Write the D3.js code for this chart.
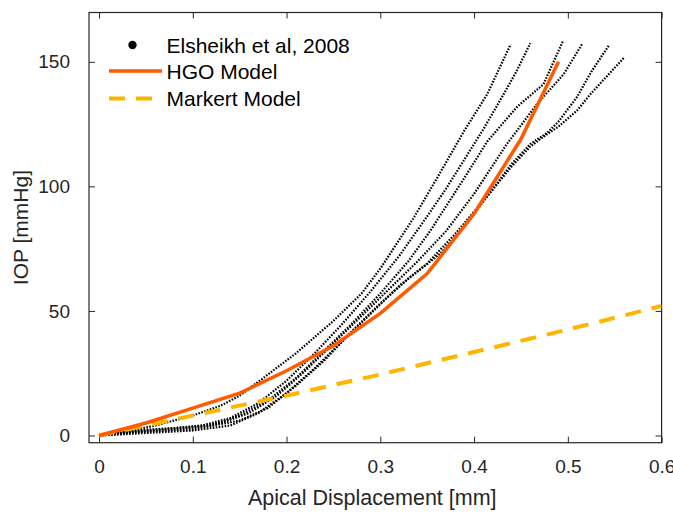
<!DOCTYPE html>
<html>
<head>
<meta charset="utf-8">
<script src="https://cdn.jsdelivr.net/npm/d3@7"></script>
<style>
  html, body { margin: 0; padding: 0; background: #fff; }
  svg { display: block; font-family: "Liberation Sans", Arial, Helvetica, sans-serif; }
</style>
</head>
<body>
<svg id="chart" width="673" height="513"></svg>
<script>
// ---------------- data ----------------
const xTicks = [0, 0.1, 0.2, 0.3, 0.4, 0.5, 0.6];
const xTickLabels = ["0", "0.1", "0.2", "0.3", "0.4", "0.5", "0.6"];
const yTicks = [0, 50, 100, 150];
const yTickLabels = ["0", "50", "100", "150"];

const seriesNames = ["Elsheikh et al, 2008", "HGO Model", "Markert Model"];

// experimental curves (displacement mm, IOP mmHg)
const expA = [[0,0],[0.03,1.5],[0.06,4],[0.1,8],[0.13,12],[0.15,16],[0.175,23],[0.21,33],[0.25,46],[0.28,57],[0.3,67],[0.335,87],[0.36,103],[0.389,122],[0.414,137],[0.439,157]];
const expB = [[0,0],[0.04,2],[0.08,3],[0.11,4],[0.14,7],[0.17,13],[0.2,22],[0.23,33],[0.26,45],[0.29,58],[0.32,72],[0.35,88],[0.37,99],[0.39,111],[0.41,123],[0.43,136],[0.445,146],[0.46,157.5]];
const expC = [[0,0],[0.04,1.5],[0.08,2.5],[0.12,4],[0.15,8],[0.18,14],[0.21,23],[0.24,34],[0.27,45],[0.3,57],[0.33,70],[0.353,82],[0.389,103],[0.414,118],[0.446,132],[0.474,141],[0.495,158.5]];
const expD = [[0,0],[0.05,2],[0.1,3.5],[0.13,5],[0.16,9],[0.19,16],[0.22,26],[0.25,37],[0.28,48],[0.31,59],[0.34,70],[0.37,82],[0.4,97],[0.435,117],[0.467,133],[0.4955,145],[0.515,157]];
const expE = [[0,0],[0.05,1],[0.1,2],[0.14,4],[0.17,9],[0.2,17],[0.23,27],[0.26,38],[0.29,49],[0.32,60],[0.35,69],[0.38,81],[0.414,96],[0.44,109],[0.46,117],[0.478,121.5],[0.49,126],[0.51,136],[0.525,146],[0.5436,156.5]];
const expF = [[0,0],[0.05,1.5],[0.1,2.5],[0.15,6],[0.18,11],[0.21,20],[0.24,30],[0.27,42],[0.3,53],[0.33,63],[0.364,73],[0.39,84],[0.414,96],[0.44,108],[0.46,116],[0.478,121],[0.49,124],[0.51,130.5],[0.524,137],[0.56,151.7]];
const experimental = [expA, expB, expC, expD, expE, expF];

// HGO model
const hgoX = [0, 0.05, 0.1, 0.15, 0.2, 0.25, 0.3, 0.35, 0.4, 0.45, 0.49];
const hgoY = [0, 5, 11, 17, 26, 36, 49, 65, 89, 119, 150];

// Markert model
const markertX = [0, 0.1, 0.2, 0.3, 0.4, 0.5, 0.6];
const markertY = [0, 8, 16, 24.5, 33.5, 42.5, 52];

// ---------------- layout ----------------
const svg = d3.select("#chart");
const L = 89, T = 12.5, R = 661.6, B = 442.7;
const x = d3.scaleLinear().domain([-0.0107, 0.6]).range([L, R]);
const y = d3.scaleLinear().domain([-2.9, 169.8]).range([B, T]);

const axisColor = "#262626";
const textColor = "#262626";

// clip
svg.append("defs").append("clipPath").attr("id", "clip")
  .append("rect").attr("x", L).attr("y", T).attr("width", R - L).attr("height", B - T);

// axes (ticks inward, mirrored on top/right)
const tickLen = 6;
const gx = svg.append("g").attr("transform", `translate(0,${B})`)
  .call(d3.axisBottom(x).tickValues(xTicks).tickFormat((d, i) => xTickLabels[i]).tickSizeInner(-tickLen).tickSizeOuter(0).tickPadding(17));
const gxTop = svg.append("g").attr("transform", `translate(0,${T})`)
  .call(d3.axisTop(x).tickValues(xTicks).tickFormat("").tickSizeInner(-tickLen).tickSizeOuter(0));
const gy = svg.append("g").attr("transform", `translate(${L},0)`)
  .call(d3.axisLeft(y).tickValues(yTicks).tickFormat((d, i) => yTickLabels[i]).tickSizeInner(-tickLen).tickSizeOuter(0).tickPadding(19));
const gyRight = svg.append("g").attr("transform", `translate(${R},0)`)
  .call(d3.axisRight(y).tickValues(yTicks).tickFormat("").tickSizeInner(-tickLen).tickSizeOuter(0));

[gx, gxTop, gy, gyRight].forEach(g => {
  g.select(".domain").remove();
  g.selectAll(".tick line").attr("stroke", axisColor).attr("stroke-width", 1);
  g.selectAll(".tick text").attr("fill", textColor).style("font-size", "19px");
});

// box
svg.append("rect").attr("x", L).attr("y", T).attr("width", R - L).attr("height", B - T)
  .attr("fill", "none").attr("stroke", axisColor).attr("stroke-width", 1.2);

// axis labels
svg.append("text").attr("x", (L + R) / 2 - 3).attr("y", 505).attr("text-anchor", "middle")
  .attr("fill", textColor).style("font-size", "21.5px").text("Apical Displacement [mm]");
svg.append("text").attr("transform", `translate(28,${(T + B) / 2}) rotate(-90)`).attr("text-anchor", "middle")
  .attr("fill", textColor).style("font-size", "21px").text("IOP [mmHg]");

// ---------------- marks ----------------
const plot = svg.append("g").attr("clip-path", "url(#clip)");
const line = d3.line().x(d => x(d[0])).y(d => y(d[1]));

plot.selectAll("path.exp").data(experimental).enter().append("path")
  .attr("class", "exp")
  .attr("d", line)
  .attr("fill", "none")
  .attr("stroke", "#000")
  .attr("stroke-width", 2.2)
  .attr("stroke-dasharray", "1.6,1.4");

const markertData = markertX.map((v, i) => [v, markertY[i]]);
plot.append("path").attr("d", line(markertData))
  .attr("fill", "none").attr("stroke", "#FFB400").attr("stroke-width", 4)
  .attr("stroke-dasharray", "16,11");

const hgoData = hgoX.map((v, i) => [v, hgoY[i]]);
plot.append("path").attr("d", line(hgoData))
  .attr("fill", "none").attr("stroke", "#FF5A00").attr("stroke-width", 3.5);

// ---------------- legend ----------------
const lg = svg.append("g");
const lx0 = 109, lx1 = 162, tx = 166.5;
const rows = [45, 71, 98.5];
lg.append("circle").attr("cx", 132.5).attr("cy", rows[0]).attr("r", 4.2).attr("fill", "#000");
lg.append("line").attr("x1", lx0).attr("x2", lx1).attr("y1", rows[1]).attr("y2", rows[1])
  .attr("stroke", "#FF5A00").attr("stroke-width", 3.5);
lg.append("line").attr("x1", lx0).attr("x2", lx1).attr("y1", rows[2]).attr("y2", rows[2])
  .attr("stroke", "#FFB400").attr("stroke-width", 4).attr("stroke-dasharray", "16,11");
seriesNames.forEach((n, i) => {
  lg.append("text").attr("x", tx).attr("y", rows[i]).attr("dy", "0.36em")
    .attr("fill", "#000").style("font-size", "21px").text(n);
});
</script>
</body>
</html>
